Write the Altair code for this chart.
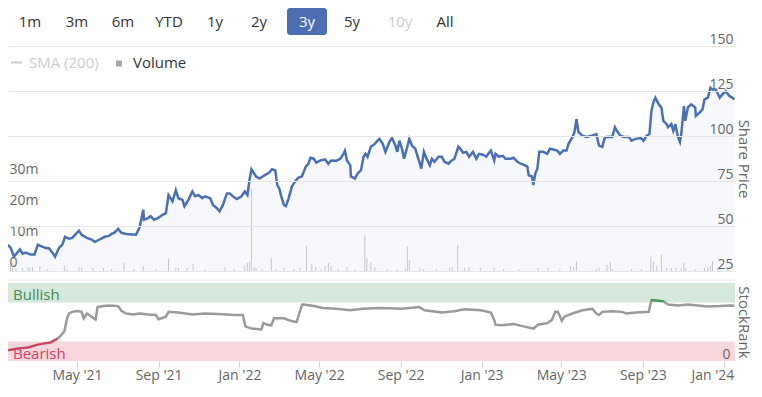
import altair as alt
import pandas as pd

# ---------------- data ----------------
PRICE_DATES = [
    "2021-01-17", "2021-01-21", "2021-01-26", "2021-02-04", "2021-02-08", "2021-02-13", "2021-02-20", "2021-02-26",
    "2021-03-03", "2021-03-07", "2021-03-14", "2021-03-20", "2021-03-25", "2021-03-29", "2021-04-04", "2021-04-09",
    "2021-04-13", "2021-04-19", "2021-04-24", "2021-04-28", "2021-05-04", "2021-05-08", "2021-05-16", "2021-05-23",
    "2021-05-28", "2021-06-04", "2021-06-12", "2021-06-18", "2021-06-22", "2021-06-26", "2021-07-02", "2021-07-07",
    "2021-07-14",
    "2021-07-29", "2021-08-03", "2021-08-09", "2021-08-10", "2021-08-16", "2021-08-20", "2021-08-25", "2021-08-31",
    "2021-09-07", "2021-09-12", "2021-09-16", "2021-09-22", "2021-09-27", "2021-10-01", "2021-10-07", "2021-10-10",
    "2021-10-16", "2021-10-22", "2021-10-26", "2021-10-31", "2021-11-06", "2021-11-10", "2021-11-18", "2021-11-22",
    "2021-11-28", "2021-12-02", "2021-12-07", "2021-12-13", "2021-12-17", "2021-12-22", "2021-12-28", "2022-01-04",
    "2022-01-09", "2022-01-13", "2022-01-16", "2022-01-19",
    "2022-01-26", "2022-01-31", "2022-02-07", "2022-02-15", "2022-02-19", "2022-02-24", "2022-02-27", "2022-03-02",
    "2022-03-05", "2022-03-09", "2022-03-12", "2022-03-16", "2022-03-21", "2022-03-27", "2022-03-31", "2022-04-05",
    "2022-04-11", "2022-04-15", "2022-04-18", "2022-04-23", "2022-04-27", "2022-05-03", "2022-05-10", "2022-05-15",
    "2022-05-19", "2022-05-27", "2022-06-02", "2022-06-06", "2022-06-09", "2022-06-12", "2022-06-17", "2022-06-18",
    "2022-06-24", "2022-06-28", "2022-07-03", "2022-07-07", "2022-07-10", "2022-07-13",
    "2022-07-18", "2022-07-24", "2022-07-28", "2022-07-31", "2022-08-05", "2022-08-09", "2022-08-15", "2022-08-19",
    "2022-08-24", "2022-08-27", "2022-08-30", "2022-09-03", "2022-09-06", "2022-09-11", "2022-09-14", "2022-09-18",
    "2022-09-23", "2022-09-29", "2022-10-02", "2022-10-06", "2022-10-10", "2022-10-15", "2022-10-18", "2022-10-22",
    "2022-10-28", "2022-11-02", "2022-11-06", "2022-11-12", "2022-11-17", "2022-11-21", "2022-11-27", "2022-11-30",
    "2022-12-04", "2022-12-09", "2022-12-13", "2022-12-19", "2022-12-24", "2022-12-28", "2023-01-03", "2023-01-08",
    "2023-01-11", "2023-01-15", "2023-01-20", "2023-01-22", "2023-01-27", "2023-02-02", "2023-02-06", "2023-02-14",
    "2023-02-18", "2023-02-24", "2023-03-01", "2023-03-05", "2023-03-11", "2023-03-13", "2023-03-18", "2023-03-20",
    "2023-03-23", "2023-03-26", "2023-03-29", "2023-04-04", "2023-04-10", "2023-04-14", "2023-04-19", "2023-04-25",
    "2023-04-29", "2023-05-04", "2023-05-09", "2023-05-12", "2023-05-18", "2023-05-21", "2023-05-24", "2023-05-27",
    "2023-06-02", "2023-06-08", "2023-06-16", "2023-06-23", "2023-06-27", "2023-07-02", "2023-07-05",
    "2023-07-08", "2023-07-12", "2023-07-17", "2023-07-21", "2023-07-24", "2023-07-29", "2023-08-04", "2023-08-11",
    "2023-08-15", "2023-08-21", "2023-08-29", "2023-09-02", "2023-09-07", "2023-09-11", "2023-09-14", "2023-09-17",
    "2023-09-20", "2023-09-25", "2023-09-29", "2023-10-02", "2023-10-07", "2023-10-09", "2023-10-14", "2023-10-17",
    "2023-10-20", "2023-10-24", "2023-10-27", "2023-10-29", "2023-11-02", "2023-11-04", "2023-11-08", "2023-11-13",
    "2023-11-19", "2023-11-20", "2023-11-26", "2023-11-30", "2023-12-03", "2023-12-08", "2023-12-12", "2023-12-15",
    "2023-12-20", "2023-12-26", "2023-12-30", "2024-01-04", "2024-01-10", "2024-01-14", "2024-01-17",
]
PRICE_VALUES = [
    39.6, 37.9, 33.0, 37.0, 34.6, 35.2, 34.1, 34.1, 39.6, 39.0, 37.9, 37.5, 35.2, 33.0, 37.9, 39.7,
    44.0, 43.0, 43.4, 45.1, 47.4, 45.1, 43.4, 42.5, 41.2, 42.5, 44.0, 44.5, 45.6, 46.2, 48.4, 46.2, 45.6,
    45.2, 48.9, 59.0, 53.5, 54.4, 55.5, 53.5, 54.4, 56.2, 57.1, 67.2, 63.7, 69.9, 65.4, 64.5, 61.0,
    64.5, 69.2, 66.5, 67.2, 65.4, 66.5, 65.4, 61.7, 59.9, 58.2, 61.7, 68.1, 68.1, 66.5, 65.0, 66.5,
    69.2, 67.2, 75.4, 81.5,
    77.5, 76.4, 78.0, 79.7, 81.5, 80.9, 72.7, 70.9, 66.5, 61.7, 61.0, 65.4, 72.0, 75.4, 76.9, 77.5,
    83.0, 84.6, 87.9, 87.4, 85.2, 86.4, 87.0, 84.6, 86.4, 86.3, 87.4, 89.6, 91.9, 86.4, 83.7, 77.5,
    76.4, 79.1, 80.9, 88.5, 90.1, 88.5,
    94.0, 95.6, 97.4, 98.4, 95.6, 91.2, 96.7, 98.9, 94.7, 91.2, 97.4, 92.9, 87.4, 94.0, 98.4, 94.7,
    92.9, 85.7, 81.9, 91.2, 87.4, 83.7, 87.4, 85.7, 88.5, 88.5, 85.7, 84.6, 86.4, 87.4, 94.1, 92.9,
    90.7, 91.2, 88.5, 91.2, 87.4, 90.1, 89.6, 88.5,
    90.1, 91.9, 86.4, 90.1, 88.5, 89.0, 87.4, 87.4, 87.9, 85.7, 84.6, 84.1, 83.0, 78.2, 77.5, 72.7,
    79.1, 81.9, 91.2, 91.2, 90.1, 92.9, 92.5, 91.9, 90.1, 91.9, 91.9, 95.6, 99.5, 102.2, 109.3, 102.2,
    100.2, 99.5, 100.2, 101.1, 94.7, 94.0, 98.4,
    99.5, 99.6, 99.5, 104.9, 102.9, 100.2, 99.5, 99.5, 97.4, 98.4, 98.9, 97.4, 100.2, 101.1, 113.9, 118.7,
    121.3, 117.6, 115.9, 108.4, 106.6, 104.9, 106.6, 102.9, 106.6, 99.5, 96.7, 101.1, 116.6, 108.4, 115.9, 117.6,
    115.9, 111.2, 113.2, 114.8, 120.3, 121.3, 126.8, 125.8, 125.8, 121.3, 123.1, 124.9, 122.1, 121.3, 120.3,
]

RANK_DATES = [
    "2021-01-17", "2021-02-01", "2021-02-16", "2021-03-03", "2021-03-13", "2021-03-22", "2021-04-01", "2021-04-06",
    "2021-04-12", "2021-04-16", "2021-04-19", "2021-04-24", "2021-05-01", "2021-05-08", "2021-05-11", "2021-05-16",
    "2021-05-23", "2021-05-29", "2021-06-01", "2021-06-10", "2021-06-19", "2021-07-02", "2021-07-07", "2021-07-14",
    "2021-07-25", "2021-08-03", "2021-08-17", "2021-08-28", "2021-09-01", "2021-09-12", "2021-09-16", "2021-10-01",
    "2021-10-22", "2021-11-10", "2021-11-29", "2021-12-25", "2022-01-06", "2022-01-10", "2022-01-19", "2022-02-03",
    "2022-02-06", "2022-02-12", "2022-02-18", "2022-02-22", "2022-03-09", "2022-03-19", "2022-03-28", "2022-04-05",
    "2022-04-06", "2022-04-23", "2022-05-07", "2022-05-27", "2022-06-17", "2022-07-06", "2022-07-31", "2022-09-03",
    "2022-09-29", "2022-10-07", "2022-11-02", "2022-11-21", "2022-12-06", "2022-12-31", "2023-01-15", "2023-01-20",
    "2023-01-22", "2023-01-30", "2023-02-18", "2023-03-05", "2023-03-20", "2023-03-27", "2023-04-10", "2023-04-17",
    "2023-04-22", "2023-04-26", "2023-05-02", "2023-05-06", "2023-05-18", "2023-06-02", "2023-06-17", "2023-06-23",
    "2023-06-27", "2023-07-02", "2023-07-17", "2023-08-01", "2023-08-07", "2023-08-21", "2023-09-10", "2023-09-14",
    "2023-10-02", "2023-10-09", "2023-10-24", "2023-11-08", "2023-11-23", "2023-12-08", "2023-12-27", "2024-01-11",
    "2024-01-17",
]
RANK_VALUES = [
    13.6, 16.0, 17.3, 21.0, 22.6, 23.8, 28.4, 32.0, 38.0, 54.7, 60.9, 63.0, 64.2, 63.0, 54.7, 60.9,
    56.8, 53.1, 69.1, 70.4, 71.2, 70.4, 64.2, 60.9, 59.6, 60.9, 59.6, 58.9, 53.5, 56.8, 63.0, 62.1,
    59.6, 60.9, 60.1, 58.9, 58.9, 44.4, 41.6, 40.4, 48.5, 46.5, 45.7, 54.7, 54.7, 51.5, 49.8, 71.2,
    72.5, 70.4, 67.9, 67.0, 65.1, 67.0, 67.9, 67.0, 69.1, 65.1, 62.1, 63.8, 66.3, 65.1, 62.1, 52.7,
    46.5, 45.7, 47.3, 44.4, 41.6, 46.5, 48.5, 52.7, 63.0, 63.0, 51.5, 56.8, 60.9, 65.1, 67.0, 60.9,
    58.9, 63.0, 63.8, 63.0, 60.9, 62.1, 63.0, 78.1, 76.5, 72.5, 71.2, 72.5, 71.2, 70.0, 70.4, 71.2,
    70.8,
]

VOLUME_DATES = [
    "2021-01-21", "2021-01-24", "2021-01-29", "2021-02-08", "2021-02-16", "2021-02-19", "2021-02-23", "2021-03-06",
    "2021-03-17", "2021-04-12", "2021-04-16", "2021-05-04", "2021-05-08", "2021-05-25", "2021-06-10", "2021-06-22",
    "2021-07-11", "2021-07-26", "2021-08-09", "2021-08-28", "2021-09-16", "2021-09-27", "2021-10-01", "2021-10-14",
    "2021-10-23", "2021-11-10", "2021-12-10", "2021-12-24", "2022-01-09", "2022-01-13", "2022-01-16", "2022-01-19",
    "2022-01-23", "2022-01-26", "2022-02-04", "2022-02-18", "2022-02-25", "2022-03-09", "2022-03-24", "2022-04-02",
    "2022-04-12", "2022-04-20", "2022-04-26", "2022-05-04", "2022-05-10", "2022-05-15", "2022-05-19", "2022-05-30",
    "2022-06-12", "2022-06-24", "2022-07-09", "2022-07-12", "2022-07-18", "2022-07-24", "2022-08-12", "2022-08-27",
    "2022-09-08", "2022-09-11", "2022-09-14", "2022-09-30", "2022-10-05", "2022-10-25", "2022-11-14", "2022-11-18",
    "2022-11-26", "2022-12-06", "2022-12-13", "2022-12-30", "2023-01-20", "2023-02-03", "2023-02-26", "2023-03-27",
    "2023-04-11", "2023-04-29", "2023-05-15", "2023-05-20", "2023-05-24", "2023-06-23", "2023-06-27", "2023-07-09",
    "2023-07-14", "2023-07-17", "2023-08-15", "2023-08-30", "2023-09-13", "2023-09-17", "2023-09-22", "2023-09-29",
    "2023-10-07", "2023-10-14", "2023-10-21", "2023-10-29", "2023-11-02", "2023-11-05", "2023-11-19", "2023-12-03",
    "2023-12-08", "2023-12-12", "2023-12-15", "2023-12-23", "2024-01-07",
]
VOLUME_MILLIONS = [
    1.9, 2.6, 1.0, 1.0, 1.3, 1.0, 1.3, 1.6, 0.6, 1.6, 0.6, 1.3, 1.0, 1.0, 1.0, 0.6,
    2.6, 0.6, 1.6, 0.6, 3.9, 1.0, 1.0, 1.0, 2.3, 0.6, 1.3, 0.6, 1.9, 2.6, 2.9, 26.8,
    1.3, 1.0, 0.6, 4.2, 0.6, 1.0, 0.6, 1.0, 8.1, 2.3, 1.3, 0.6, 1.6, 2.6, 1.6, 0.6,
    1.3, 0.6, 11.6, 4.2, 2.9, 1.3, 0.6, 0.6, 1.0, 8.1, 3.5, 1.0, 0.6, 0.6, 1.0, 1.3,
    8.4, 1.0, 1.3, 1.0, 1.0, 0.6, 0.6, 1.0, 1.0, 0.6, 1.6, 1.3, 3.2, 0.6, 1.0, 1.9,
    2.9, 0.6, 0.6, 0.6, 4.8, 3.2, 1.6, 5.2, 1.0, 1.0, 1.0, 1.0, 2.6, 1.0, 0.6, 1.0,
    1.3, 1.6, 3.2, 1.0, 0.6,
]

X_TICKS = [(2021, 5), (2021, 9), (2022, 1), (2022, 5), (2022, 9), (2023, 1), (2023, 5), (2023, 9), (2024, 1)]
RANGE_BUTTONS = ["1m", "3m", "6m", "YTD", "1y", "2y", "3y", "5y", "10y", "All"]
SELECTED_BUTTON = "3y"
DISABLED_BUTTON = "10y"
PRICE_TICKS = [25, 50, 75, 100, 125, 150]
VOLUME_TICKS = [0, 10_000_000, 20_000_000, 30_000_000]
RANK_ZONES = ["Bullish", "Bearish"]
RANK_ZONE_LOW = [75, 0]
RANK_ZONE_HIGH = [100, 25]

assert len(PRICE_DATES) == len(PRICE_VALUES)
assert len(RANK_DATES) == len(RANK_VALUES)
assert len(VOLUME_DATES) == len(VOLUME_MILLIONS)

# ---------------- layout / style ----------------
W = 727
H = 315
FONT = "Open Sans"
BUTTON_X = [22, 69, 115, 161, 207, 251, 299, 344, 392, 437]
BLUE = "#4a70b3"

price_df = pd.DataFrame({"date": PRICE_DATES, "price": PRICE_VALUES})
rank_df = pd.DataFrame({"date": RANK_DATES, "rank": RANK_VALUES})
vol_df = pd.DataFrame({"date": VOLUME_DATES, "volume": [v * 1_000_000 for v in VOLUME_MILLIONS]})
zones_df = pd.DataFrame({"zone": RANK_ZONES, "lo": RANK_ZONE_LOW, "hi": RANK_ZONE_HIGH})

x_scale = alt.Scale(
    type="utc",
    domain=[alt.DateTime(year=2021, month=1, date=17, utc=True),
            alt.DateTime(year=2024, month=1, date=18, utc=True)],
)
price_scale = alt.Scale(domain=[25, 150], range=[225, 0], zero=False, nice=False)
vol_scale = alt.Scale(domain=[0, 35_000_000], range=[225, 117.2], zero=False, nice=False)
rank_scale = alt.Scale(domain=[0, 100], range=[315, 237], zero=False, nice=False)

x_axis = alt.Axis(
    orient="bottom", format="%b '%y",
    values=[alt.DateTime(year=y, month=m, date=1, utc=True) for y, m in X_TICKS],
    labelFontSize=14, labelColor="#666666", labelFont=FONT, tickSize=6, tickColor="#d0d0d0",
    labelPadding=1, domain=False, grid=False, labelOverlap=False,
    labelFlush=20, labelFlushOffset=10, title=None, zindex=1,
)


def right_axis(values, title, pad, grid):
    return alt.Axis(
        orient="right", values=values, title=title, titleFont=FONT, titleFontSize=15,
        titleFontWeight="normal", titleColor="#666666", titleAngle=90, titleBaseline="middle",
        titleAlign="center", titleX=8, labelAlign="right", labelPadding=pad,
        labelBaseline="alphabetic", labelOffset=-3, labelFontSize=14, labelFont=FONT,
        labelColor="#666666", ticks=False, tickSize=0, domain=False,
        grid=grid, gridColor="#e6e6e6", gridWidth=1,
        labelOverlap=False, labelFlush=False, zindex=1,
    )


vol_axis = alt.Axis(
    orient="left", values=VOLUME_TICKS,
    labelExpr="datum.value == 0 ? '0' : (datum.value / 1000000) + 'm'",
    labelAlign="left", labelPadding=-1, ticks=False, tickSize=0, domain=False, grid=False,
    labelFontSize=14, labelColor="#666666", labelFont=FONT, labelBaseline="alphabetic",
    labelOffset=-5, labelOverlap=False, title=None,
)

# every layer carries the same x axis definition so that the shared axis is kept
X = alt.X("date:T", scale=x_scale, axis=x_axis)
one = pd.DataFrame({"k": [0]})

# rank panel top line
panel_line = alt.Chart(one).mark_rule(color="#e6e6e6", strokeWidth=1).encode(
    x=alt.value(0), x2=alt.value(W), y=alt.value(234)
)

# bullish / bearish bands
bands = alt.Chart(zones_df).mark_rect().encode(
    x=alt.value(0), x2=alt.value(W),
    y=alt.Y("lo:Q", scale=rank_scale, axis=None), y2="hi:Q",
    color=alt.Color("zone:N", scale=alt.Scale(domain=RANK_ZONES, range=["#d6e8dc", "#f6d7de"]), legend=None),
)
bull_text = alt.Chart(zones_df).transform_filter(alt.datum.zone == "Bullish").mark_text(
    align="left", baseline="middle", dy=12, fontSize=15, font=FONT, color="#3f8d50"
).encode(x=alt.value(5), y=alt.Y("hi:Q", scale=rank_scale, axis=None), text="zone:N")
bear_text = alt.Chart(zones_df).transform_filter(alt.datum.zone == "Bearish").mark_text(
    align="left", baseline="middle", dy=12, fontSize=15, font=FONT, color="#d43d62"
).encode(x=alt.value(5), y=alt.Y("hi:Q", scale=rank_scale, axis=None), text="zone:N")

# volume
volume = alt.Chart(vol_df).mark_rule(color="#cccccc", strokeWidth=1).encode(
    x=X, y=alt.Y("volume:Q", scale=vol_scale, axis=vol_axis), y2=alt.datum(0)
)

# price
area = alt.Chart(price_df).mark_area(color=BLUE, opacity=0.05, clip=True).encode(
    x=X, y=alt.Y("price:Q", scale=price_scale, axis=right_axis(PRICE_TICKS, "Share Price", -2, True)),
    y2=alt.datum(25),
)
line = alt.Chart(price_df).mark_line(color=BLUE, strokeWidth=2.5, clip=True).encode(
    x=X, y=alt.Y("price:Q", scale=price_scale, axis=None)
)

# stockrank
rank_gray = alt.Chart(rank_df).mark_line(color="#9a9a9a", strokeWidth=2.5, clip=True).encode(
    x=X, y=alt.Y("rank:Q", scale=rank_scale, axis=right_axis([0], "StockRank", -5, False)),
)
rank_red = alt.Chart(rank_df).transform_filter(alt.datum.rank < 30).mark_line(
    color="#d43d62", strokeWidth=2, clip=True
).encode(x=X, y=alt.Y("rank:Q", scale=rank_scale, axis=None))
rank_green = alt.Chart(rank_df).transform_filter(alt.datum.rank >= 75).mark_line(
    color="#3b9a4c", strokeWidth=2, clip=True
).encode(x=X, y=alt.Y("rank:Q", scale=rank_scale, axis=None))

# range selector buttons
sel_idx = RANGE_BUTTONS.index(SELECTED_BUTTON)
button_bg = alt.Chart(one).mark_rect(color="#4b6fb2", cornerRadius=3).encode(
    x=alt.value(BUTTON_X[sel_idx] - 20), x2=alt.value(BUTTON_X[sel_idx] + 20),
    y=alt.value(-38), y2=alt.value(-11),
)
buttons = []
for lab, bx in zip(RANGE_BUTTONS, BUTTON_X):
    col = "#ffffff" if lab == SELECTED_BUTTON else ("#cccccc" if lab == DISABLED_BUTTON else "#333333")
    buttons.append(
        alt.Chart(pd.DataFrame({"label": [lab]})).mark_text(
            align="center", baseline="middle", fontSize=15, font=FONT, color=col
        ).encode(x=alt.value(bx), y=alt.value(-24.5), text="label:N")
    )

# legend
leg_sma_line = alt.Chart(one).mark_rule(color="#cccccc", strokeWidth=2).encode(
    x=alt.value(3), x2=alt.value(14), y=alt.value(16.5)
)
leg_sma = alt.Chart(pd.DataFrame({"label": ["SMA (200)"]})).mark_text(
    align="left", baseline="middle", fontSize=15, font=FONT, color="#cccccc"
).encode(x=alt.value(21), y=alt.value(16.5), text="label:N")
leg_vol_sq = alt.Chart(one).mark_rect(color="#a8a8a8").encode(
    x=alt.value(108), x2=alt.value(114), y=alt.value(14.5), y2=alt.value(20.5)
)
leg_vol = alt.Chart(pd.DataFrame({"label": ["Volume"]})).mark_text(
    align="left", baseline="middle", fontSize=15, font=FONT, color="#333333"
).encode(x=alt.value(125), y=alt.value(16.5), text="label:N")

chart = alt.layer(
    panel_line, bands, bull_text, bear_text, volume, area, line, rank_gray, rank_red, rank_green,
    button_bg, *buttons, leg_sma_line, leg_sma, leg_vol_sq, leg_vol,
).resolve_scale(y="independent").resolve_axis(y="independent").properties(
    width=W, height=H, background="#ffffff",
    autosize=alt.AutoSizeParams(type="none"),
    padding={"left": 0, "top": 38, "right": 19, "bottom": 23},
).configure_view(stroke="transparent")

chart.save("out.html", embed_options={"renderer": "svg", "actions": False})
